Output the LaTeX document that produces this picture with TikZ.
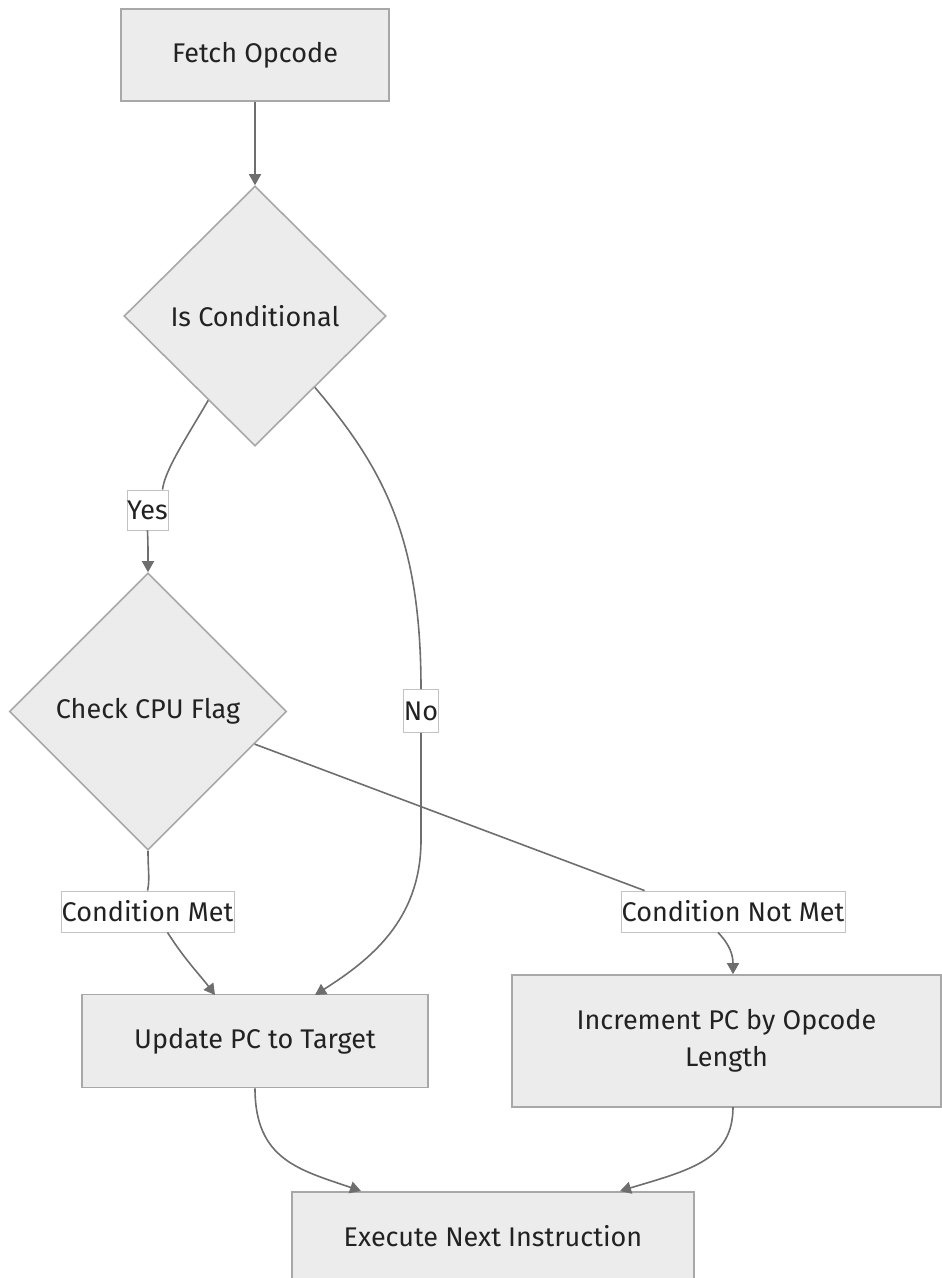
\documentclass[tikz,border=0pt]{standalone}
\usepackage{fontspec}
\setmainfont{Fira Sans}
\usetikzlibrary{shapes.geometric,arrows.meta,calc}
\definecolor{boxfill}{HTML}{ECECEC}
\definecolor{boxline}{HTML}{A8A8A8}
\definecolor{edge}{HTML}{6E6E6E}
\definecolor{txt}{HTML}{222222}
\begin{document}
\begin{tikzpicture}[x=1pt,y=-1pt,
  every node/.style={font=\fontsize{27}{37}\selectfont, text=txt},
  procbox/.style={draw=boxline, line width=1.6pt, fill=boxfill, inner sep=0pt, align=center},
  decision/.style={diamond, draw=boxline, line width=1.6pt, fill=boxfill, inner sep=0pt, aspect=1},
  lbl/.style={draw=boxline!70, line width=0.8pt, fill=white, inner sep=0pt},
  conn/.style={draw=edge, line width=1.6pt},
  arr/.style={conn, -{Triangle[width=12pt,length=11pt]}}]
\useasboundingbox (0,0) rectangle (942,1278);
\clip (0,0) rectangle (942,1278);

\node[procbox, minimum width=268pt, minimum height=92pt] (fetch) at (255,55) {Fetch Opcode};
\node[decision, minimum width=262pt, minimum height=260pt] (ic) at (255,316) {Is Conditional};
\node[decision, minimum width=277pt, minimum height=277pt] (cf) at (148,711.5) {Check CPU Flag};
\node[procbox, minimum width=346pt, minimum height=93pt] (upd) at (255,1041) {Update PC to Target};
\node[procbox, minimum width=429pt, minimum height=132pt] (inc) at (726.5,1041) {Increment PC by Opcode\\Length};
\node[procbox, minimum width=402pt, minimum height=92pt, anchor=north] (exe) at (493,1191) {};
\node at (493,1236) {Execute Next Instruction};

\node[lbl, minimum width=41pt, minimum height=40pt] (yes) at (147.5,510) {Yes};
\node[lbl, minimum width=35pt, minimum height=43pt] (no) at (421,711) {No};
\node[lbl, minimum width=173pt, minimum height=41pt] (met) at (147.5,911.5) {Condition Met};
\node[lbl, minimum width=224pt, minimum height=41pt] (notmet) at (733,911.5) {Condition Not Met};

\draw[arr] (fetch.south) -- (ic.north);

\draw[conn] (ic.241) .. controls (185,440) and (165,470) .. ($(yes.north)+(15,0)$);
\draw[arr] (yes.south) .. controls (148,545) .. (cf.north);

\draw[conn] (ic.310) .. controls (385,470) and (421,540) .. (no.north);
\draw[arr] (no.south) -- (421,840) .. controls (421,920) and (370,960) .. (315,995);

\draw[conn] (cf.south) .. controls (148,870) and (150,880) .. (met.north);
\draw[arr] ($(met.south)+(20,0)$) .. controls (185,960) and (200,975) .. (215,995);

\draw[conn] (cf.-17) -- ($(notmet.north west)+(24,0)$);
\draw[arr] ($(notmet.south)+(-15,0)$) .. controls (730,945) and (733,955) .. (inc.north -| 733,0);

\draw[arr] (upd.south) .. controls (255,1160) and (300,1170) .. (361,1191);
\draw[arr] (733,1107) .. controls (733,1160) and (690,1170) .. (620,1191);
\end{tikzpicture}
\end{document}
